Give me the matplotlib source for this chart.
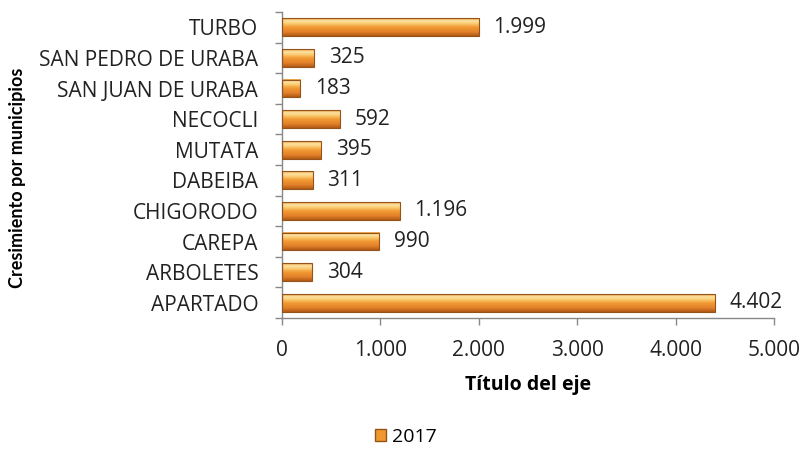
import numpy as np
import matplotlib.pyplot as plt
from matplotlib.colors import LinearSegmentedColormap
from matplotlib.patches import Patch
from matplotlib.ticker import FuncFormatter

plt.rcParams['font.family'] = ['Open Sans', 'DejaVu Sans']

# data (bottom to top as drawn)
municipios = ['APARTADO', 'ARBOLETES', 'CAREPA', 'CHIGORODO', 'DABEIBA',
              'MUTATA', 'NECOCLI', 'SAN JUAN DE URABA', 'SAN PEDRO DE URABA', 'TURBO']
crecimiento_2017 = [4402, 304, 990, 1196, 311, 395, 592, 183, 325, 1999]


def miles(v, pos=None):
    return f"{int(v):,}".replace(',', '.')


fig = plt.figure(figsize=(8.07, 4.5), dpi=100)
ax = fig.add_axes([0.3494, 0.2933, 0.6096, 0.68])

y = np.arange(len(municipios))
bars = ax.barh(y, crecimiento_2017, height=0.58, color='none', edgecolor='#93531a', linewidth=0.8, zorder=3)

# glossy vertical gradient like the excel bars
shade = LinearSegmentedColormap.from_list('shade', [
    (0.0, '#b05a16'), (0.22, '#e2802a'), (0.5, '#f29a33'),
    (0.72, '#fbcf78'), (0.85, '#fde3a4'), (1.0, '#ec9f40')])
grad = np.linspace(0, 1, 64).reshape(-1, 1)
for b in bars:
    x0, y0 = b.get_x(), b.get_y()
    ax.imshow(grad, cmap=shade, origin='lower', aspect='auto', zorder=2,
              extent=[x0, x0 + b.get_width(), y0, y0 + b.get_height()])

for yi, v in zip(y, crecimiento_2017):
    ax.text(v + 150, yi, miles(v), va='center', ha='left', fontsize=15, color='#222222')

ax.set_xlim(0, 5000)
ax.set_ylim(-0.5, len(municipios) - 0.5)
ax.set_xticks(np.arange(0, 5001, 1000))
ax.xaxis.set_major_formatter(FuncFormatter(miles))
ax.set_yticks(y)
ax.set_yticklabels(municipios)
ax.set_yticks(np.arange(-0.5, len(municipios)), minor=True)
ax.tick_params(axis='y', which='major', length=0, pad=17, labelsize=15, labelcolor='#222222')
ax.tick_params(axis='y', which='minor', length=5, color='#888888', width=1)
ax.tick_params(axis='x', length=5, color='#888888', width=1, labelsize=15, pad=11, labelcolor='#222222')

for s in ['top', 'right']:
    ax.spines[s].set_visible(False)
for s in ['left', 'bottom']:
    ax.spines[s].set_color('#888888')
    ax.spines[s].set_linewidth(1)

ax.set_xlabel('Título del eje', fontsize=14, fontweight='bold', labelpad=10)
fig.text(18 / 807, 1 - 178 / 450, 'Cresimiento por municipios', rotation=90,
         ha='center', va='center', fontsize=13, fontweight='bold', family=['Lato', 'DejaVu Sans'])

fig.legend(handles=[Patch(facecolor='#f0982f', edgecolor='#93531a', label='2017')],
           loc='center', bbox_to_anchor=(0.503, 0.029), frameon=False, fontsize=14,
           handlelength=0.55, handleheight=0.55, handletextpad=0.3)

fig.savefig('out.png', dpi=100)
